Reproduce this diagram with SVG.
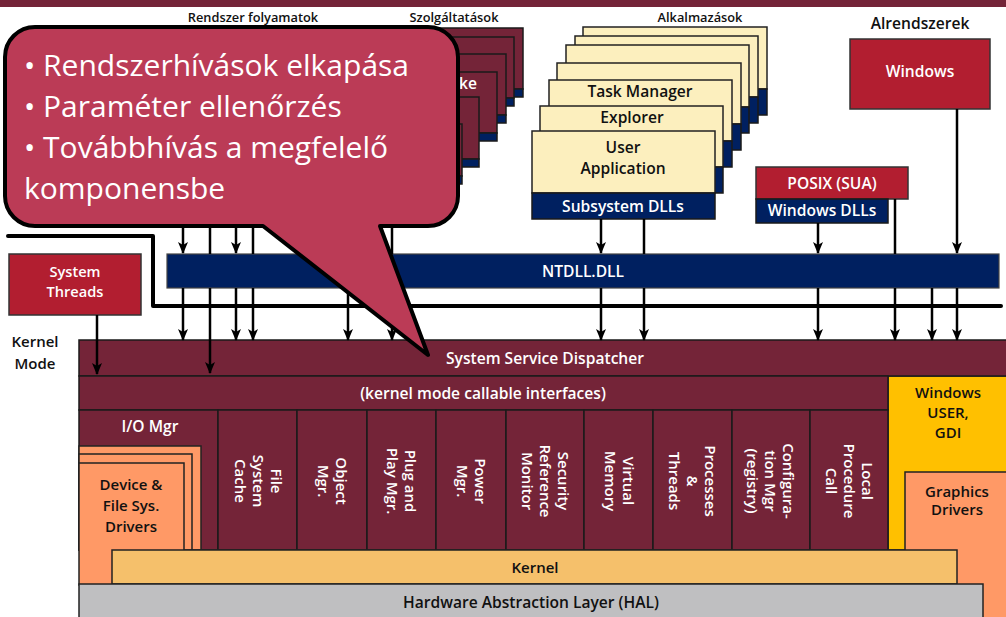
<svg xmlns="http://www.w3.org/2000/svg" width="1006" height="617" viewBox="0 0 1006 617">
<defs>
<marker id="arr" viewBox="0 0 12 10" refX="11" refY="5" markerWidth="12" markerHeight="10" markerUnits="userSpaceOnUse" orient="auto">
<path d="M0,0 L12,5 L0,10 L3,5 z" fill="#000"/>
</marker>
<style>
text{font-family:"Open Sans","Liberation Sans",sans-serif;font-weight:600;}
.w{fill:#fff;}
.k{fill:#111;}
.c{text-anchor:middle;}
.f14{font-size:15.6px;}
.f15{font-size:15px;}
.f11{font-size:12.8px;}
.st{font-size:14.6px;}
.mar{fill:#742438;stroke:#1a1a1a;stroke-width:1.5;}
.cri{fill:#b21e30;stroke:#333;stroke-width:1.5;}
.nav{fill:#002060;stroke:#1a1a1a;stroke-width:1.5;}
.app{fill:#fcefbe;stroke:#222;stroke-width:1.5;}
.ora{fill:#ff9966;stroke:#222;stroke-width:1.5;}
.ln{stroke:#000;stroke-width:2.5;fill:none;}
.la{stroke:#000;stroke-width:2.5;fill:none;marker-end:url(#arr);}
.cl{font-family:"Open Sans","Liberation Sans",sans-serif;font-weight:400;font-size:30px;fill:#fff;}
</style>
</defs>
<rect x="0" y="0" width="1006" height="7" fill="#742438"/>

<g id="headers">
<text class="k c f11" x="253" y="22">Rendszer folyamatok</text>
<text class="k c f11" x="454" y="22">Szolgáltatások</text>
<text class="k c f11" x="700" y="22">Alkalmazások</text>
<text class="k c f14" x="920" y="29">Alrendszerek</text>
</g>

<g id="services">
<rect class="mar" x="370" y="28" width="153" height="61"/><rect class="nav" x="370" y="89" width="153" height="8"/>
<rect class="mar" x="361" y="37" width="153" height="61"/><rect class="nav" x="361" y="98" width="153" height="8"/>
<rect class="mar" x="353" y="54" width="153" height="61"/><rect class="nav" x="353" y="115" width="153" height="8"/>
<rect class="mar" x="344" y="72" width="153" height="61"/><rect class="nav" x="344" y="133" width="153" height="8"/>
<text class="w f14" x="459" y="89">ke</text>
<rect class="mar" x="326" y="97" width="153" height="62"/><rect class="nav" x="326" y="159" width="153" height="8"/>
<rect class="mar" x="309" y="124" width="153" height="52"/><rect class="nav" x="309" y="176" width="153" height="8"/>
</g>

<g id="applications">
<rect class="app" x="583" y="27" width="184" height="62"/><rect class="nav" x="583" y="89" width="184" height="26"/>
<rect class="app" x="575" y="36" width="183" height="61"/><rect class="nav" x="575" y="97" width="183" height="26"/>
<rect class="app" x="566" y="45" width="183" height="62"/><rect class="nav" x="566" y="107" width="183" height="26"/>
<rect class="app" x="557" y="63" width="184" height="61"/><rect class="nav" x="557" y="124" width="184" height="26"/>
<rect class="app" x="549" y="80" width="183" height="61"/><rect class="nav" x="549" y="141" width="183" height="26"/>
<text class="k c f14" x="640" y="97">Task Manager</text>
<rect class="app" x="540" y="106" width="183" height="61"/><rect class="nav" x="540" y="167" width="183" height="26"/>
<text class="k c f14" x="632" y="123">Explorer</text>
<rect class="app" x="532" y="131" width="183" height="62"/><rect class="nav" x="532" y="193" width="183" height="26"/>
<text class="k c f14" x="623" y="153">User</text>
<text class="k c f14" x="623" y="174">Application</text>
<text class="w c f14" x="623" y="212">Subsystem DLLs</text>
</g>

<g id="windows-subsystem">
<rect class="cri" x="850" y="39" width="140" height="70"/>
<text class="w c f14" x="920" y="77">Windows</text>
</g>

<g id="posix">
<rect class="cri" x="756" y="167" width="152" height="32"/>
<text class="w c f14" x="832" y="189">POSIX (SUA)</text>
<rect class="nav" x="756" y="199" width="132" height="24"/>
<text class="w c f14" x="822" y="216">Windows DLLs</text>
</g>

<g id="system-threads">
<rect class="cri" x="9" y="254" width="132" height="61"/>
<text class="w c st" x="75" y="277">System</text>
<text class="w c st" x="75" y="297">Threads</text>
</g>

<g id="ntdll">
<rect x="167" y="254" width="832" height="34" fill="#002060" stroke="#444" stroke-width="1.2"/>
<text class="w c f14" x="583" y="277">NTDLL.DLL</text>
</g>

<g id="kernel-mode-label">
<text class="k c f15" x="35" y="347">Kernel</text>
<text class="k c f15" x="35" y="369">Mode</text>
</g>

<g id="windows-user-gdi">
<rect x="888" y="376" width="120" height="174" fill="#ffc000" stroke="#222" stroke-width="1.5"/>
<text class="k c f15" x="948" y="398">Windows</text>
<text class="k c f15" x="948" y="418">USER,</text>
<text class="k c f15" x="948" y="438">GDI</text>
</g>

<g id="graphics-drivers">
<rect class="ora" x="905" y="472" width="103" height="147"/>
<text class="k c f15" x="957" y="497">Graphics</text>
<text class="k c f15" x="957" y="515">Drivers</text>
</g>

<g id="dispatcher">
<rect class="mar" x="79" y="340" width="930" height="36"/>
<text class="w c f14" x="545" y="364">System Service Dispatcher</text>
</g>

<g id="callable-interfaces">
<rect class="mar" x="79" y="376" width="809" height="34"/>
<text class="w c f14" x="483" y="399">(kernel mode callable interfaces)</text>
</g>

<g id="io-mgr">
<rect class="mar" x="79" y="410" width="139" height="140"/>
<text class="w c f14" x="150" y="432">I/O Mgr</text>
<rect class="ora" x="79" y="446" width="122" height="104"/>
<rect class="ora" x="79" y="454" width="113" height="96"/>
<rect class="ora" x="79" y="463" width="105" height="122"/>
<text class="k c f15" x="131" y="490">Device &amp;</text>
<text class="k c f15" x="131" y="511">File Sys.</text>
<text class="k c f15" x="131" y="532">Drivers</text>
</g>

<g id="components">
<rect class="mar" x="218" y="410" width="79" height="140"/>
<rect class="mar" x="297" y="410" width="70" height="140"/>
<rect class="mar" x="367" y="410" width="69" height="140"/>
<rect class="mar" x="436" y="410" width="70" height="140"/>
<rect class="mar" x="506" y="410" width="78" height="140"/>
<rect class="mar" x="584" y="410" width="69" height="140"/>
<rect class="mar" x="653" y="410" width="79" height="140"/>
<rect class="mar" x="732" y="410" width="78" height="140"/>
<rect class="mar" x="810" y="410" width="78" height="140"/>
</g>
<g id="file-system-cache" transform="translate(257.5,481) rotate(90)"><text class="w c f15" y="-13">File</text><text class="w c f15" y="5">System</text><text class="w c f15" y="23">Cache</text></g>
<g id="object-mgr" transform="translate(332,481) rotate(90)"><text class="w c f15" y="-4">Object</text><text class="w c f15" y="14">Mgr.</text></g>
<g id="pnp-mgr" transform="translate(401,481) rotate(90)"><text class="w c f15" y="-4">Plug and</text><text class="w c f15" y="14">Play Mgr.</text></g>
<g id="power-mgr" transform="translate(471,481) rotate(90)"><text class="w c f15" y="-4">Power</text><text class="w c f15" y="14">Mgr.</text></g>
<g id="security-ref-monitor" transform="translate(545,481) rotate(90)"><text class="w c f15" y="-13">Security</text><text class="w c f15" y="5">Reference</text><text class="w c f15" y="23">Monitor</text></g>
<g id="virtual-memory" transform="translate(618.5,481) rotate(90)"><text class="w c f15" y="-4">Virtual</text><text class="w c f15" y="14">Memory</text></g>
<g id="processes-threads" transform="translate(692,481) rotate(90)"><text class="w c f15" y="-13">Processes</text><text class="w c f15" y="5">&amp;</text><text class="w c f15" y="23">Threads</text></g>
<g id="config-mgr" transform="translate(770,481) rotate(90)"><text class="w c f15" y="-13">Configura-</text><text class="w c f15" y="5">tion Mgr</text><text class="w c f15" y="23">(registry)</text></g>
<g id="lpc" transform="translate(849,481) rotate(90)"><text class="w c f15" y="-13">Local</text><text class="w c f15" y="5">Procedure</text><text class="w c f15" y="23">Call</text></g>

<g id="kernel">
<rect x="112" y="550" width="845" height="34" fill="#f5c06b" stroke="#222" stroke-width="1.5"/>
<text class="k c f15" x="535" y="573">Kernel</text>
</g>

<g id="hal">
<rect x="79" y="584" width="904" height="36" fill="#bfbfc1" stroke="#222" stroke-width="1.5"/>
<text class="k c f14" x="531" y="608">Hardware Abstraction Layer (HAL)</text>
</g>

<g id="connectors">
<polyline points="8,236 153,236 153,306 1001,306" fill="none" stroke="#000" stroke-width="4" stroke-linejoin="round" stroke-linecap="round"/>
<line class="la" x1="183" y1="215" x2="183" y2="253"/>
<line class="la" x1="183" y1="288" x2="183" y2="340"/>
<line class="ln" x1="210" y1="215" x2="210" y2="254"/>
<line class="la" x1="210" y1="288" x2="210" y2="373"/>
<line class="la" x1="236" y1="215" x2="236" y2="253"/>
<line class="la" x1="236" y1="288" x2="236" y2="340"/>
<line class="ln" x1="253" y1="215" x2="253" y2="254"/>
<line class="la" x1="253" y1="288" x2="253" y2="340"/>
<line class="ln" x1="348" y1="184" x2="348" y2="254"/>
<line class="la" x1="348" y1="288" x2="348" y2="340"/>
<line class="ln" x1="392" y1="184" x2="392" y2="254"/>
<line class="la" x1="392" y1="288" x2="392" y2="340"/>
<line class="la" x1="601" y1="219" x2="601" y2="253"/>
<line class="la" x1="601" y1="288" x2="601" y2="340"/>
<line class="ln" x1="644" y1="219" x2="644" y2="254"/>
<line class="la" x1="644" y1="288" x2="644" y2="340"/>
<line class="la" x1="818" y1="223" x2="818" y2="253"/>
<line class="la" x1="818" y1="288" x2="818" y2="340"/>
<line class="ln" x1="895" y1="199" x2="895" y2="254"/>
<line class="la" x1="895" y1="288" x2="895" y2="340"/>
<line class="la" x1="932" y1="288" x2="932" y2="340"/>
<line class="la" x1="957" y1="109" x2="957" y2="253"/>
<line class="la" x1="957" y1="288" x2="957" y2="340"/>
<line class="la" x1="97" y1="315" x2="97" y2="374"/>
</g>

<g id="callout">
<path d="M35,27 H428 A30,30 0 0 1 458,57 V196 A30,30 0 0 1 428,226 H380 L428,355 L263,226 H35 A30,30 0 0 1 5,196 V57 A30,30 0 0 1 35,27 Z" fill="#bb3b56" stroke="#000" stroke-width="4" stroke-linejoin="round"/>
<text class="cl" x="24" y="76">• Rendszerhívások elkapása</text>
<text class="cl" x="24" y="117">• Paraméter ellenőrzés</text>
<text class="cl" x="24" y="158">• Továbbhívás a megfelelő</text>
<text class="cl" x="24" y="199">komponensbe</text>
</g>
</svg>
